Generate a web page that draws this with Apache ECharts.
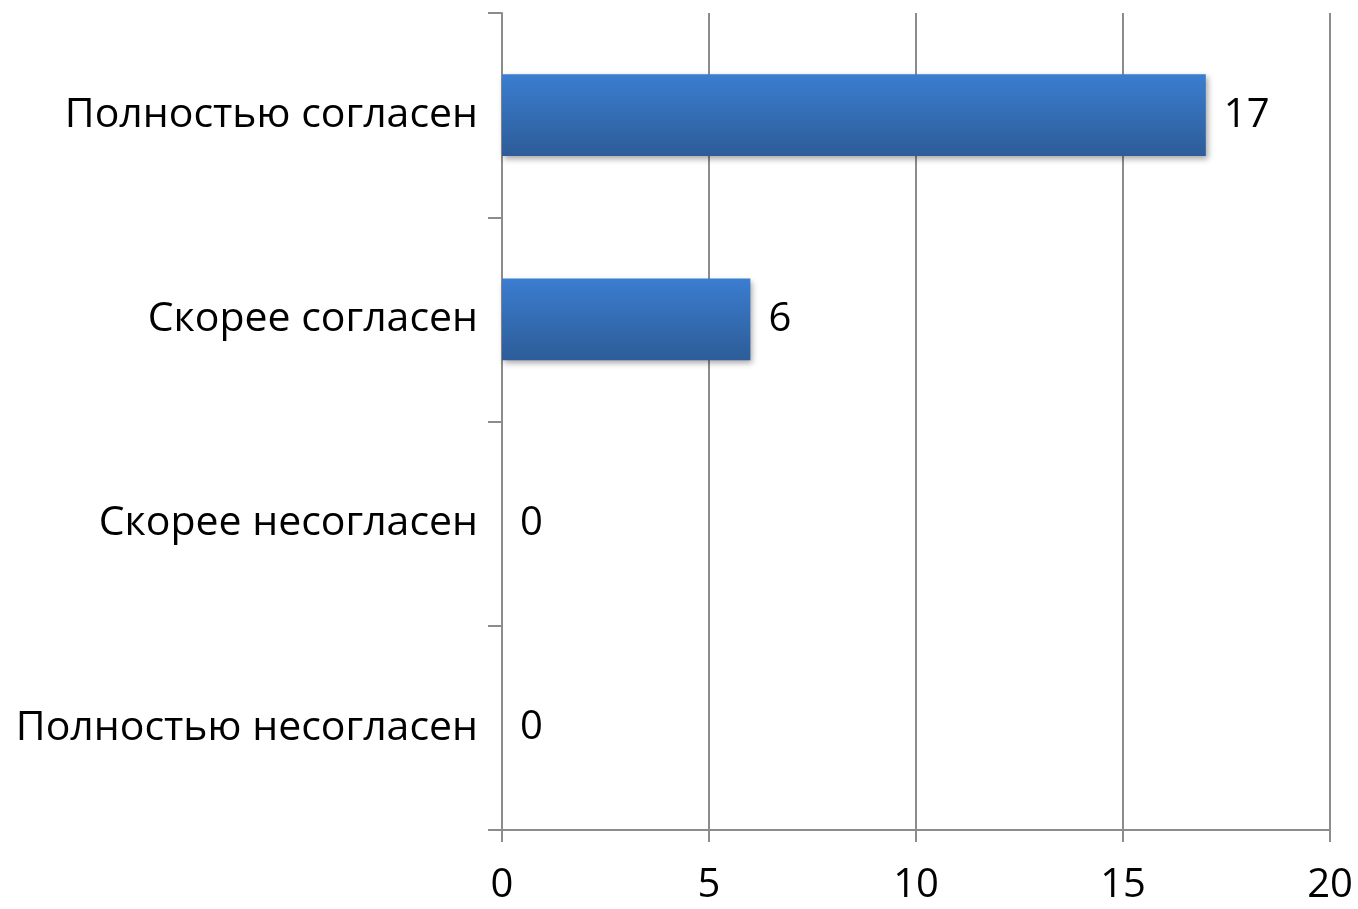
<!DOCTYPE html>
<html><head><meta charset="utf-8">
<script src="https://cdn.jsdelivr.net/npm/echarts@6/dist/echarts.min.js"></script>
<style>html,body{margin:0;padding:0;background:#fff}#c{width:1358px;height:909px}</style>
</head><body><div id="c"></div>
<script>
const categories = ['Полностью согласен','Скорее согласен','Скорее несогласен','Полностью несогласен'];
const values = [17, 6, 0, 0];
const xTicks = [0, 5, 10, 15, 20];

const FONT = 'Open Sans';
const chart = echarts.init(document.getElementById('c'));
chart.setOption({
  animation: false,
  grid: {left: 502, right: 28, top: 13, bottom: 79, containLabel: false},
  xAxis: {
    type: 'value', min: xTicks[0], max: xTicks[xTicks.length-1], interval: 5,
    axisLine: {show: true, lineStyle: {color: '#8c8c8c', width: 2}},
    axisTick: {show: true, length: 12, lineStyle: {color: '#8c8c8c', width: 2}},
    axisLabel: {color: '#000', fontSize: 40, fontFamily: FONT, margin: 36},
    splitLine: {show: true, lineStyle: {color: '#8c8c8c', width: 2}}
  },
  yAxis: {
    type: 'category', data: categories, inverse: true,
    axisLine: {show: true, lineStyle: {color: '#8c8c8c', width: 2}},
    axisTick: {show: true, length: 14, lineStyle: {color: '#8c8c8c', width: 2}},
    axisLabel: {color: '#000', fontSize: 41, fontFamily: FONT, margin: 24, padding: [6, 0, 0, 0]},
    splitLine: {show: false}
  },
  series: [{
    type: 'bar', data: values, barWidth: '40%',
    itemStyle: {
      color: new echarts.graphic.LinearGradient(0,0,0,1,[{offset:0,color:'#3b7dd0'},{offset:1,color:'#2d5c98'}]),
      shadowColor: 'rgba(0,0,0,0.35)', shadowBlur: 6, shadowOffsetX: 2, shadowOffsetY: 3
    },
    label: {show: true, position: 'right', distance: 18, color: '#000', fontSize: 40, fontFamily: FONT}
  }]
});
</script></body></html>
